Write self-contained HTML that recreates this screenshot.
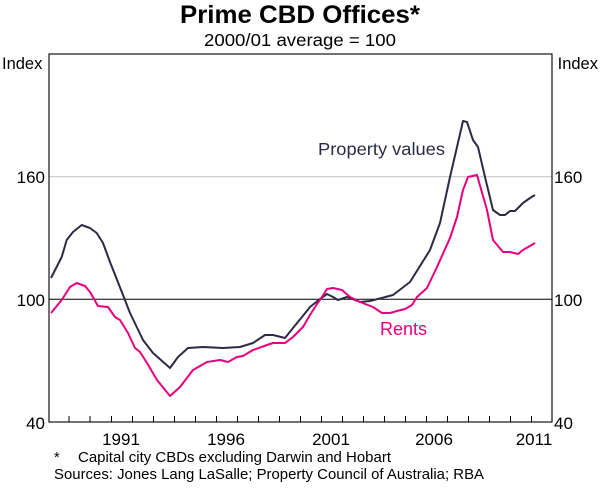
<!DOCTYPE html>
<html><head><meta charset="utf-8"><style>
body{margin:0;background:#fff;}
svg text{font-family:"Liberation Sans",Arial,sans-serif;}
</style></head><body>
<svg width="600" height="485" viewBox="0 0 600 485" xmlns="http://www.w3.org/2000/svg">
<text x="300" y="23" font-size="25" font-weight="bold" text-anchor="middle" fill="#000" textLength="240" lengthAdjust="spacingAndGlyphs">Prime CBD Offices*</text>
<text x="300" y="46" font-size="17.5" text-anchor="middle" fill="#000" textLength="192" lengthAdjust="spacingAndGlyphs">2000/01 average = 100</text>
<text x="2" y="69" font-size="16.5">Index</text>
<text x="598" y="69" font-size="16.5" text-anchor="end">Index</text>
<line x1="49" y1="176.7" x2="552" y2="176.7" stroke="#c8c8c8" stroke-width="1.2"/>
<line x1="49" y1="299.3" x2="552" y2="299.3" stroke="#000" stroke-width="1"/>
<rect x="49" y="54" width="503" height="368" fill="none" stroke="#000" stroke-width="1.1"/>
<g stroke="#000" stroke-width="1">
<path d="M69,422v-6M90,422v-6M111.5,422v-6M132.5,422v-6M153.5,422v-6M174.5,422v-6M195.5,422v-6M216.5,422v-6M237.5,422v-6M258.5,422v-6M279.5,422v-6M300.5,422v-6M321.5,422v-6M342.5,422v-6M363.5,422v-6M384.5,422v-6M405.5,422v-6M426.5,422v-6M447.5,422v-6M468.5,422v-6M489.5,422v-6M510.5,422v-6M531.5,422v-6"/>
</g>
<g font-size="17">
<text x="45" y="183" text-anchor="end">160</text>
<text x="45" y="306" text-anchor="end">100</text>
<text x="45" y="429" text-anchor="end">40</text>
<text x="554" y="183">160</text>
<text x="554" y="306">100</text>
<text x="554" y="429">40</text>
<text x="121" y="445" text-anchor="middle">1991</text>
<text x="226" y="445" text-anchor="middle">1996</text>
<text x="331" y="445" text-anchor="middle">2001</text>
<text x="434" y="445" text-anchor="middle">2006</text>
<text x="534" y="445" text-anchor="middle">2011</text>
</g>
<text x="54" y="462" font-size="14.5">*</text>
<text x="78" y="462" font-size="14.5" textLength="313" lengthAdjust="spacingAndGlyphs">Capital city CBDs excluding Darwin and Hobart</text>
<text x="54" y="479" font-size="14.5" textLength="430" lengthAdjust="spacingAndGlyphs">Sources: Jones Lang LaSalle; Property Council of Australia; RBA</text>
<polyline fill="none" stroke="#2b2b45" stroke-width="2" stroke-linejoin="round" points="51,278 61.7,257 66.7,240 73,232 81.7,225 90,228 96.7,233 103,243 110,262 123,295 130,313 143,340 153,353 170,368 178,357 188,348 203,347 223,348 240,347 253,343 265,335 273,335 285,338 293,328 302,317 310,307 320,299 327,294 333,297 338,300 347,297 360,302 370,301 393,295 410,282 430,250 440,223 450,177 457,147 463,121 467,122 473,140 478,147 485,177 493,210 500,215 505,215 510,211 515,211 523,203 530,198 535,195"/>
<polyline fill="none" stroke="#e6007e" stroke-width="2" stroke-linejoin="round" points="51,313 61.7,300 70,287 76.7,283 85,286 90,292 98,306 108,307 115,317 120,320 128,333 135,348 140,352 147,363 157,380 170,396 180,387 193,370 207,362 220,360 228,362 237,357 243,356 253,350 267,345 273,343 285,343 293,337 303,327 310,315 317,304 322,297 327,289 333,288 342,290 350,297 360,302 373,307 382,313 390,313 397,311 405,309 412,305 417,297 427,288 437,267 450,238 457,217 463,190 468,177 477,175 487,210 493,240 503,252 510,252 518,254 523,250 535,243"/>
<text x="318" y="155" font-size="17.5" fill="#2b2b45" textLength="127" lengthAdjust="spacingAndGlyphs">Property values</text>
<text x="380" y="335" font-size="18" fill="#e6007e">Rents</text>
</svg>
</body></html>
